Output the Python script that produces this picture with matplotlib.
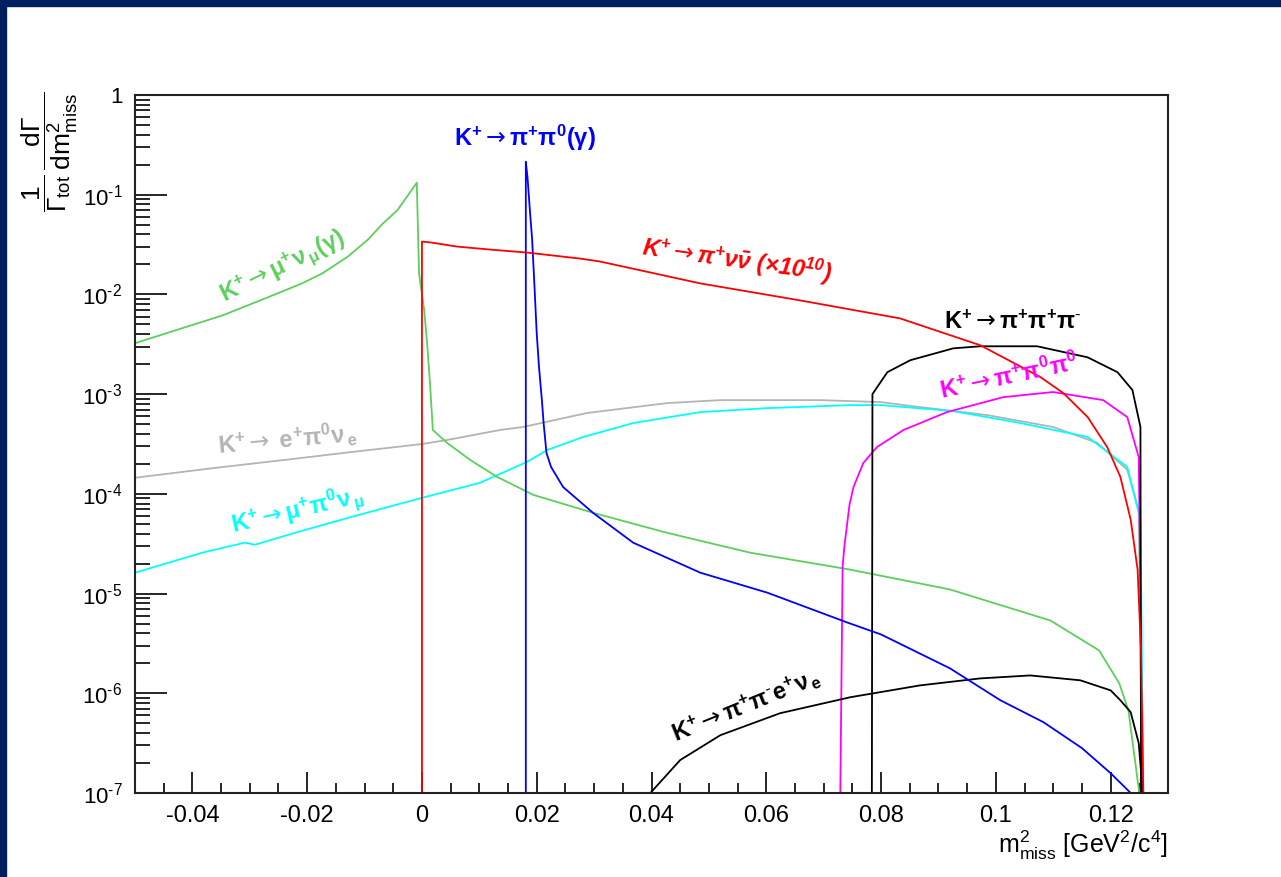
import math

import matplotlib.pyplot as plt
from matplotlib.patches import Rectangle
from matplotlib.ticker import FixedLocator, FuncFormatter, MultipleLocator, NullFormatter

plt.rcParams['font.family'] = ['Liberation Sans', 'DejaVu Sans']
plt.rcParams['mathtext.fontset'] = 'custom'
plt.rcParams['mathtext.rm'] = 'Liberation Sans'
plt.rcParams['mathtext.it'] = 'Liberation Sans:italic'
plt.rcParams['mathtext.bf'] = 'Liberation Sans:bold'
plt.rcParams['mathtext.bfit'] = 'Liberation Sans:bold:italic'
plt.rcParams['mathtext.sf'] = 'DejaVu Sans'
plt.rcParams['axes.unicode_minus'] = False

# K+ -> mu+ nu (gamma)
munu_x = [-0.0500, -0.0413, -0.0347, -0.0269, -0.0209, -0.0174, -0.0129, -0.0094, -0.0070,
          -0.0042, -0.0009, -0.0005, 0.0004, 0.0009, 0.0014, 0.0019, 0.0044, 0.0084, 0.0131,
          0.0194, 0.0298, 0.0427, 0.0572, 0.0746, 0.0920, 0.1095, 0.1180, 0.1215, 0.1231, 0.1250]
munu_y = [3.24e-3, 4.68e-3, 6.17e-3, 9.33e-3, 1.29e-2, 1.62e-2, 2.40e-2, 3.55e-2, 5.01e-2,
          7.08e-2, 0.132, 1.62e-2, 6.92e-3, 3.24e-3, 1.29e-3, 4.37e-4, 3.24e-4, 2.19e-4, 1.48e-4,
          9.77e-5, 6.46e-5, 4.07e-5, 2.57e-5, 1.74e-5, 1.10e-5, 5.37e-6, 2.69e-6, 1.26e-6, 6.76e-7, 1e-7]

# K+ -> pi+ nu nubar (x 1e10)
pinn_x = [0.0, 0.0, 0.0017, 0.0061, 0.0118, 0.0183, 0.0275, 0.0310, 0.0485, 0.0659, 0.0833,
          0.0973, 0.1078, 0.1118, 0.1160, 0.1194, 0.1217, 0.1235, 0.1247, 0.1253, 0.1257]
pinn_y = [1e-7, 3.39e-2, 3.31e-2, 3.02e-2, 2.82e-2, 2.63e-2, 2.29e-2, 2.14e-2, 1.29e-2, 8.71e-3, 5.75e-3,
          3.09e-3, 1.48e-3, 1.02e-3, 5.89e-4, 2.95e-4, 1.48e-4, 5.50e-5, 1.74e-5, 2.69e-6, 1e-7]

# K+ -> pi+ pi0 (gamma)
pipi0_x = [0.0181, 0.0181, 0.0184, 0.0188, 0.0192, 0.0195, 0.0200, 0.0204, 0.0209, 0.0212,
           0.0217, 0.0225, 0.0246, 0.0298, 0.0368, 0.0485, 0.0602, 0.0741, 0.0800, 0.0920,
           0.1008, 0.1083, 0.1150, 0.1200, 0.1235]
pipi0_y = [1e-7, 0.214, 0.148, 7.08e-2, 3.55e-2, 1.62e-2, 4.07e-3, 1.86e-3, 8.71e-4, 5.13e-4,
           2.57e-4, 1.86e-4, 1.17e-4, 6.46e-5, 3.24e-5, 1.62e-5, 1.02e-5, 5.13e-6, 3.89e-6, 1.78e-6,
           8.51e-7, 5.13e-7, 2.82e-7, 1.58e-7, 1e-7]

# K+ -> e+ pi0 nu
ke3_x = [-0.0500, -0.0361, -0.0239, -0.0122, 0.0, 0.0044, 0.0136, 0.0176, 0.0287, 0.0427,
         0.0520, 0.0694, 0.0800, 0.0868, 0.0985, 0.1100, 0.1177, 0.1229, 0.1249, 0.1255]
ke3_y = [1.45e-4, 1.82e-4, 2.19e-4, 2.63e-4, 3.16e-4, 3.47e-4, 4.37e-4, 4.68e-4, 6.46e-4, 8.13e-4,
         8.71e-4, 8.71e-4, 8.32e-4, 7.41e-4, 6.17e-4, 4.68e-4, 3.24e-4, 1.74e-4, 6.92e-5, 1e-7]

# K+ -> mu+ pi0 nu
kmu3_x = [-0.0500, -0.0383, -0.0309, -0.0291, -0.0221, -0.0122, 0.0, 0.0101, 0.0183, 0.0218,
          0.0281, 0.0368, 0.0485, 0.0602, 0.0746, 0.0800, 0.0926, 0.1043, 0.1160, 0.1229,
          0.1252, 0.1256, 0.1257]
kmu3_y = [1.62e-5, 2.57e-5, 3.24e-5, 3.09e-5, 4.07e-5, 5.89e-5, 9.12e-5, 1.29e-4, 2.09e-4, 2.75e-4,
          3.72e-4, 5.13e-4, 6.61e-4, 7.24e-4, 7.76e-4, 7.76e-4, 6.76e-4, 5.13e-4, 3.72e-4, 1.86e-4,
          5.50e-5, 3.16e-7, 1e-7]

# K+ -> pi+ pi0 pi0
p00_x = [0.0729, 0.0733, 0.0736, 0.0745, 0.0752, 0.0769, 0.0793, 0.0839, 0.0915, 0.1013,
         0.1100, 0.1187, 0.1229, 0.1249, 0.1252, 0.1254]
p00_y = [1e-7, 1.86e-5, 2.95e-5, 7.76e-5, 1.17e-4, 2.04e-4, 2.95e-4, 4.37e-4, 6.61e-4, 9.33e-4,
         1.05e-3, 8.71e-4, 5.89e-4, 2.34e-4, 1e-5, 1e-7]

# K+ -> pi+ pi+ pi-
ppm_x = [0.0784, 0.0785, 0.0793, 0.0811, 0.0851, 0.0926, 0.0973, 0.1072, 0.1160, 0.1212,
         0.1238, 0.1252, 0.1253]
ppm_y = [1e-7, 1e-3, 1.17e-3, 1.66e-3, 2.19e-3, 2.88e-3, 3.02e-3, 3.02e-3, 2.34e-3, 1.66e-3,
         1.10e-3, 4.68e-4, 1e-7]

# K+ -> pi+ pi- e+ nu
ke4_x = [0.0398, 0.0450, 0.0520, 0.0624, 0.0746, 0.0868, 0.0973, 0.1060, 0.1147, 0.1200,
         0.1217, 0.1235, 0.1249, 0.1256]
ke4_y = [1e-7, 2.14e-7, 3.80e-7, 6.31e-7, 9.12e-7, 1.20e-6, 1.41e-6, 1.51e-6, 1.35e-6, 1.07e-6,
         8.51e-7, 6.46e-7, 3.16e-7, 1e-7]

y_ticks = [1e-7, 1e-6, 1e-5, 1e-4, 1e-3, 1e-2, 1e-1, 1]

green = '#5ccf5c'
grey = '#b4b4b4'
arw = r'{\mathsf{\rightarrow}}'

fig = plt.figure(figsize=(12.81, 8.77), dpi=100)
# navy frame of the slide
fig.patches.append(Rectangle((0, 1 - 6 / 877), 1, 6 / 877, transform=fig.transFigure,
                             color='#001f5f', zorder=0))
fig.patches.append(Rectangle((0, 0), 6 / 1281, 1, transform=fig.transFigure,
                             color='#001f5f', zorder=0))

ax = fig.add_axes([135 / 1281, 1 - 793 / 877, (1168 - 135) / 1281, (793 - 95) / 877])

lw = 1.3
ax.plot(ke3_x, ke3_y, color=grey, lw=lw)
ax.plot(kmu3_x, kmu3_y, color='#00ffff', lw=lw)
ax.plot(munu_x, munu_y, color=green, lw=lw)
ax.plot(p00_x, p00_y, color='#ff00ff', lw=lw)
ax.plot(ppm_x, ppm_y, color='black', lw=lw)
ax.plot(ke4_x, ke4_y, color='black', lw=lw)
ax.plot(pipi0_x, pipi0_y, color='#0000ff', lw=lw)
ax.plot(pinn_x, pinn_y, color='#ff0000', lw=lw)

ax.set_yscale('log')
ax.set_xlim(-0.05, 0.13)
ax.set_ylim(1e-7, 1)

ax.xaxis.set_major_locator(MultipleLocator(0.02))
ax.xaxis.set_minor_locator(MultipleLocator(0.005))
ax.xaxis.set_major_formatter(FuncFormatter(lambda v, p: '%g' % round(v, 4)))
ax.yaxis.set_major_locator(FixedLocator(y_ticks))
ax.yaxis.set_minor_locator(FixedLocator([d * k for d in y_ticks[:-1] for k in range(2, 10)]))
ax.yaxis.set_minor_formatter(NullFormatter())


def ylab(v, p):
    n = int(round(math.log10(v)))
    return '1' if n == 0 else r'$10^{\text{%d}}$' % n


ax.yaxis.set_major_formatter(FuncFormatter(ylab))
ax.tick_params(which='both', direction='in', top=False, right=False, colors='black')
ax.tick_params(axis='x', which='major', length=15, width=1.2, pad=9, labelsize=17)
ax.tick_params(axis='x', which='minor', length=7.5, width=1.2)
ax.tick_params(axis='y', which='major', length=23, width=1.2, pad=9, labelsize=16)
ax.tick_params(axis='y', which='minor', length=11, width=1.2)
for s in ax.spines.values():
    s.set_linewidth(1.5)
    s.set_color('#222222')

fs = 17
ax.text(0.0180, 0.37, r'$\mathbf{K^{+}' + arw + r'\pi^{+}\pi^{0}(\gamma)}$', color='#0000ff',
        fontsize=fs, ha='center', va='center')
ax.text(-0.0243, 1.9e-2, r'$\mathbf{K^{+}' + arw + r'\mu^{+}\nu_{\,\mu}(\gamma)}$', color=green,
        fontsize=fs, ha='center', va='center', rotation=26)
ax.text(-0.0235, 3.5e-4, r'$\mathbf{K^{+}' + arw + r'\ e^{+}\pi^{0}\nu_{\,e}}$', color=grey,
        fontsize=fs, ha='center', va='center', rotation=5)
ax.text(-0.0218, 6.8e-5, r'$\mathbf{K^{+}' + arw + r'\mu^{+}\pi^{0}\nu_{\,\mu}}$', color='#00ffff',
        fontsize=fs, ha='center', va='center', rotation=13)
ax.text(0.0549, 2.2e-2, r'$\mathbfit{K^{+}' + arw + r'\pi^{+}\nu\bar{\nu}\ (\times 10^{10})}$',
        color='#ff0000', fontsize=fs, ha='center', va='center', rotation=-8)
ax.text(0.1030, 5.3e-3, r'$\mathbf{K^{+}' + arw + r'\pi^{+}\pi^{+}\pi^{\text{-}}}$', color='black',
        fontsize=fs, ha='center', va='center')
ax.text(0.1022, 1.5e-3, r'$\mathbf{K^{+}' + arw + r'\pi^{+}\pi^{0}\pi^{0}}$', color='#ff00ff',
        fontsize=fs, ha='center', va='center', rotation=12)
ax.text(0.0565, 7.5e-7, r'$\mathbf{K^{+}' + arw + r'\pi^{+}\pi^{\text{-}}e^{+}\nu_{\,e}}$', color='black',
        fontsize=fs, ha='center', va='center', rotation=22)

fig.text(1168 / 1281, 1 - 845 / 877, r'$\mathrm{m}^{2}_{\mathrm{miss}}$ [GeV$^{2}$/c$^{4}$]',
         fontsize=18, ha='right', va='center')
fig.text(50 / 1281, 1 - 152 / 877,
         r'$\dfrac{1}{\Gamma_{\mathrm{tot}}}\,\dfrac{\mathrm{d}\Gamma}{\mathrm{dm}^{2}_{\mathrm{miss}}}$',
         fontsize=19, ha='center', va='center', rotation=90)

fig.savefig('out.png', dpi=100)
